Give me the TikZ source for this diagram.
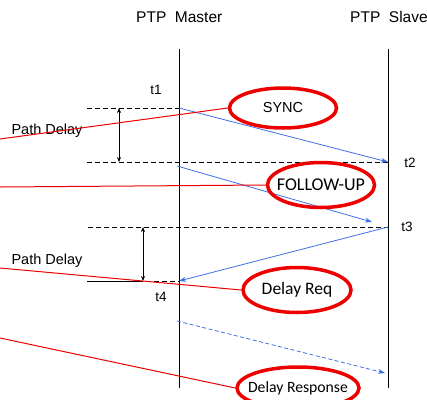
\documentclass[tikz,border=0pt]{standalone}
\usepackage{fontspec}
\setmainfont{Liberation Sans}
\newfontfamily\calib{Carlito}
\usetikzlibrary{shapes.geometric,arrows.meta}
\definecolor{msgblue}{RGB}{62,112,228}
\definecolor{tagred}{RGB}{236,0,0}

\begin{document}
\begin{tikzpicture}[x=1pt,y=-1pt,
  lbl/.style={font=\fontsize{14.5}{16}\selectfont, inner sep=0pt},
  tag/.style={draw=tagred, line width=3.5pt, ellipse, inner sep=0pt},
  msg/.style={msgblue, line width=0.8pt, -{Stealth[length=7pt,width=5pt]}},
  refline/.style={dash pattern=on 5pt off 3pt, line width=0.7pt},
  span/.style={{Stealth[length=5pt,width=4pt]}-{Stealth[length=5pt,width=4pt]}, line width=0.7pt},
  lead/.style={tagred, line width=1pt}]
\useasboundingbox (0,0) rectangle (427,399);

% lifelines
\node[lbl, font=\fontsize{15.5}{17}\selectfont, anchor=west] (master) at (136,17) {PTP\ \ Master};
\node[lbl, font=\fontsize{15.5}{17}\selectfont, anchor=west] (slave) at (350,17) {PTP\ \ Slave};
\coordinate (mtop) at (179,49);
\coordinate (mbot) at (179,388);
\coordinate (stop) at (388,49);
\coordinate (sbot) at (388,388);
\draw[line width=0.9pt] (mtop) -- (mbot);
\draw[line width=0.9pt] (stop) -- (sbot);

% timestamps
\coordinate (t1m) at (179,108);
\coordinate (t2s) at (388,162);
\coordinate (t3s) at (388,227);
\coordinate (t4m) at (179,281);
\node[lbl, font=\fontsize{13.5}{15}\selectfont] (t1) at (156,90) {t1};
\node[lbl, font=\fontsize{13.5}{15}\selectfont] (t2) at (410,163) {t2};
\node[lbl, font=\fontsize{13.5}{15}\selectfont] (t3) at (407,227) {t3};
\node[lbl, font=\fontsize{13.5}{15}\selectfont] (t4) at (161,297) {t4};

% reference levels
\coordinate (r1) at (87,108);
\coordinate (r2) at (87,162);
\coordinate (r3) at (88,227);
\coordinate (r4) at (87,281);
\coordinate (r4b) at (138,281);
\draw[refline] (r1) -- (t1m);
\draw[refline] (r2) -- (t2s);
\draw[refline] (r3) -- (t3s);
\draw[line width=0.7pt] (r4) -- (r4b);
\draw[refline] (r4b) -- (t4m);

% path delay spans
\coordinate (d1a) at (119,108);
\coordinate (d1b) at (119,162);
\coordinate (d2a) at (143,227);
\coordinate (d2b) at (143,281);
\draw[span] (d1a) -- (d1b);
\draw[span] (d2a) -- (d2b);
\node[lbl] (pd1) at (47,131) {Path Delay};
\node[lbl] (pd2) at (47,261) {Path Delay};

% messages
\coordinate (f1) at (177,166);
\coordinate (f2) at (372,222);
\coordinate (r1s) at (177,321);
\coordinate (r2s) at (385,373);
\draw[msg] (t1m) -- (t2s);
\draw[msg] (f1) -- (f2);
\draw[msg] (t3s) -- (t4m);
\draw[msg, dash pattern=on 4pt off 2.5pt] (r1s) -- (r2s);

% message tags
\node[tag, minimum width=107pt, minimum height=40pt] (sync) at (283,108)
  {\makebox[0pt]{\fontsize{14.5}{16}\selectfont SYNC}};
\node[tag, minimum width=107pt, minimum height=45pt] (fup) at (321,185)
  {\makebox[0pt]{\calib\fontsize{18}{20}\selectfont FOLLOW-UP}};
\node[tag, minimum width=108pt, minimum height=45pt] (dreq) at (297,290)
  {\makebox[0pt]{\calib\fontsize{17.5}{20}\selectfont Delay Req}};
\node[tag, minimum width=122pt, minimum height=42pt] (dresp) at (298,388)
  {\makebox[0pt]{\calib\fontsize{15.7}{18}\selectfont Delay Response}};

% leaders
\coordinate (l1) at (0,139);
\coordinate (l2) at (0,187);
\coordinate (l3) at (0,268);
\coordinate (l4) at (0,338);
\draw[lead] (l1) -- (sync.west);
\draw[lead] (l2) -- (fup.west);
\draw[lead] (l3) -- (dreq.west);
\draw[lead] (l4) -- (dresp.west);
\end{tikzpicture}
\end{document}
